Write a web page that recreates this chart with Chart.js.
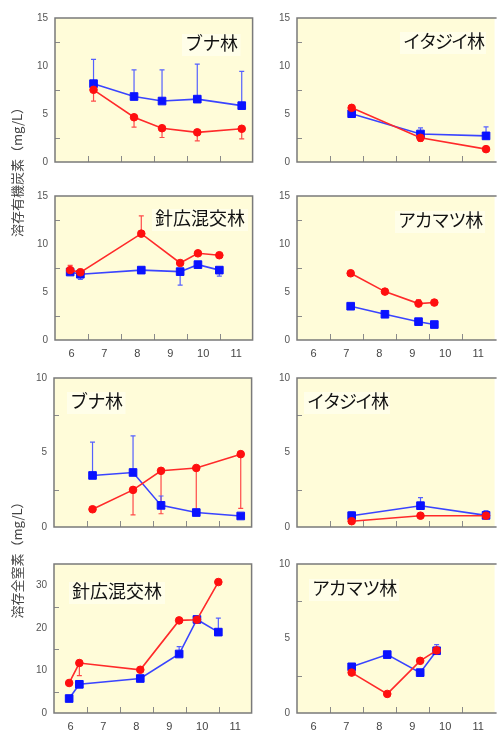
<!DOCTYPE html>
<html lang="ja">
<head>
<meta charset="utf-8">
<title>溶存有機炭素・溶存全窒素</title>
<script src="https://cdn.jsdelivr.net/npm/chart.js@4.4.1/dist/chart.umd.min.js"></script>
<style>
  html, body { margin: 0; padding: 0; background: #fff; }
  body { width: 497px; height: 733px; overflow: hidden; position: relative; }
  canvas { position: absolute; }
</style>
</head>
<body>
<canvas id="titles" width="40" height="733" style="left:0;top:0;width:40px;height:733px;"></canvas>
<script>
// ---- 横軸（月） ----
const xTickLabels = [6, 7, 8, 9, 10, 11];
const xMinorTicks = [6.5, 7.5, 8.5, 9.5, 10.5];

// ---- 縦軸タイトル ----
const docTitle = '溶存有機炭素（mg/L）';
const tnTitle = '溶存全窒素（mg/L）';

// ---- ブナ林 ----
const bunaMonths = [6.67, 7.90, 8.75, 9.82, 11.17];
const bunaDocBlue = [8.16, 6.82, 6.35, 6.55, 5.87];
const bunaDocBlueUpper = [10.7, 9.6, 9.6, 10.2, 9.45];
const bunaDocRed = [7.52, 4.66, 3.52, 3.09, 3.46];
const bunaDocRedLower = [6.35, 3.63, 2.55, 2.2, 2.4];
const bunaTnBlue = [3.46, 3.66, 1.45, 0.97, 0.74];
const bunaTnBlueUpper = [5.69, 6.12, 2.08, null, null];
const bunaTnRed = [1.19, 2.49, 3.77, 3.96, 4.89];
const bunaTnRedLower = [null, 0.82, 0.89, 1.19, 1.25];

// ---- イタジイ林 ----
const itajiiMonths = [7.16, 9.25, 11.24];
const itajiiDocBlue = [5.03, 2.92, 2.72];
const itajiiDocBlueUpper = [null, 3.56, 3.66];
const itajiiDocRed = [5.64, 2.52, 1.34];
const itajiiDocRedLower = [null, 2.15, null];
const itajiiTnBlue = [0.76, 1.43, 0.78];
const itajiiTnBlueUpper = [1.0, 1.97, 1.1];
const itajiiTnRed = [0.39, 0.76, 0.76];
const itajiiTnRedLower = [null, null, null];

// ---- 針広混交林 ----
const shinkoMonths = [5.96, 6.27, 8.12, 9.30, 9.84, 10.49];
const shinkoDocBlue = [7.08, 6.85, 7.28, 7.12, 7.85, 7.28];
const shinkoDocBlueLower = [null, 6.31, null, 5.71, null, 6.65];
const shinkoDocRed = [7.28, 7.05, 11.08, 8.02, 9.03, 8.83];
const shinkoDocRedUpper = [7.78, 7.38, 12.92, null, null, null];
const shinkoTnBlue = [3.4, 6.74, 8.1, 13.86, 21.97, 19.0];
const shinkoTnBlueUpper = [null, null, null, 15.6, null, 22.3];
const shinkoTnRed = [7.05, 11.74, 10.15, 21.75, 21.9, 30.76];
const shinkoTnRedLower = [null, 8.8, null, null, null, null];

// ---- アカマツ林 ----
const akamatsuDocMonths = [7.13, 8.17, 9.19, 9.67];
const akamatsuTnMonths = [7.16, 8.24, 9.24, 9.74];
const akamatsuDocBlue = [3.52, 2.68, 1.91, 1.61];
const akamatsuDocBlueLower = [null, null, null, 1.42];
const akamatsuDocRed = [6.95, 5.04, 3.79, 3.9];
const akamatsuDocRedUpper = [null, null, 4.2, null];
const akamatsuTnBlue = [3.1, 3.92, 2.71, 4.18];
const akamatsuTnBlueUpper = [null, null, null, 4.59];
const akamatsuTnRed = [2.71, 1.28, 3.5, 4.2];
const akamatsuTnRedLower = [null, null, null, null];

// ---- 縦軸（目盛ラベル・内向き補助目盛） ----
const docAxis = { max: 15, labels: [0, 5, 10, 15], minor: [2.5, 7.5, 12.5] };
const tn10Axis = { max: 10, labels: [0, 5, 10], minor: [2.5, 7.5] };
const tn35Axis = { max: 35, labels: [0, 10, 20, 30], minor: [5, 15, 25] };

const BLUE = '#0a12ff', BLUE_LINE = '#3a44ff', BLUE_ERR = '#5560ff';
const RED = '#ff0f0f', RED_LINE = '#ff2a2a', RED_ERR = '#ff4a4a';

Chart.defaults.font.family = '"Liberation Sans", Arial, sans-serif';

// 縦書きの軸タイトル
(function drawAxisTitles() {
  const ctx = document.getElementById('titles').getContext('2d');
  ctx.fillStyle = '#444';
  ctx.font = '13px "Noto Sans CJK JP", sans-serif';
  ctx.textAlign = 'center';
  ctx.textBaseline = 'middle';
  [[docTitle, 169], [tnTitle, 557]].forEach(([t, cy]) => {
    ctx.save();
    ctx.translate(17, cy);
    ctx.rotate(-Math.PI / 2);
    ctx.fillText(t, 0, 0);
    ctx.restore();
  });
})();

// パネル背景・枠・内向き目盛・林分名・誤差棒
const panelDecor = {
  id: 'panelDecor',
  beforeDraw(chart, args, o) {
    const { ctx, chartArea: a } = chart;
    ctx.save();
    ctx.fillStyle = '#fffcd9';
    ctx.fillRect(a.left, a.top, a.right - a.left, a.bottom - a.top);
    ctx.restore();
  },
  beforeDatasetsDraw(chart, args, o) {
    const { ctx, chartArea: a, scales } = chart;
    const xs = scales.x, ys = scales.y;
    ctx.save();
    // 林分名
    ctx.font = '18px "Noto Sans CJK JP", sans-serif';
    ctx.letterSpacing = o.spacing + 'px';
    const tw = ctx.measureText(o.title).width;
    const tx = a.left + o.tx, ty = a.top + o.ty;
    ctx.fillStyle = '#fffee9';
    ctx.fillRect(tx - 3, ty - 9, tw + 6, 22);
    ctx.fillStyle = '#111';
    ctx.textBaseline = 'middle';
    ctx.fillText(o.title, tx, ty);
    ctx.letterSpacing = '0px';

    // 内向き目盛
    ctx.strokeStyle = '#8a8a8a';
    ctx.lineWidth = 1;
    ctx.beginPath();
    xMinorTicks.forEach(v => {
      const px = Math.round(xs.getPixelForValue(v)) + 0.5;
      ctx.moveTo(px, a.bottom);
      ctx.lineTo(px, a.bottom - 6);
    });
    o.yMinor.forEach(v => {
      const py = Math.round(ys.getPixelForValue(v)) + 0.5;
      ctx.moveTo(a.left, py);
      ctx.lineTo(a.left + 5, py);
    });
    ctx.stroke();

    // 枠（右列は右辺が画面外）
    ctx.strokeStyle = '#7a7a7a';
    ctx.lineWidth = 1.5;
    ctx.beginPath();
    if (o.openRight) {
      ctx.moveTo(a.right + 2, a.top);
      ctx.lineTo(a.left, a.top);
      ctx.lineTo(a.left, a.bottom);
      ctx.lineTo(a.right + 2, a.bottom);
    } else {
      ctx.rect(a.left, a.top, a.right - a.left, a.bottom - a.top);
    }
    ctx.stroke();

    // 誤差棒
    chart.data.datasets.forEach(ds => {
      if (!ds.errEnd) return;
      ctx.strokeStyle = ds.errColor;
      ctx.lineWidth = 1.2;
      ctx.beginPath();
      ds.data.forEach((p, i) => {
        const e = ds.errEnd[i];
        if (e === null || e === undefined) return;
        const px = xs.getPixelForValue(p.x);
        const py0 = ys.getPixelForValue(p.y);
        const py1 = ys.getPixelForValue(e);
        ctx.moveTo(px, py0);
        ctx.lineTo(px, py1);
        ctx.moveTo(px - 2.5, py1);
        ctx.lineTo(px + 2.5, py1);
      });
      ctx.stroke();
    });
    ctx.restore();
  }
};

const panels = [
  { left: 55, top: 13, h: 149, axis: docAxis, showX: false, title: 'ブナ林', tx: 130, ty: 25, spacing: -0.5,
    months: bunaMonths, blue: bunaDocBlue, blueErr: bunaDocBlueUpper, red: bunaDocRed, redErr: bunaDocRedLower },
  { left: 297, top: 13, h: 149, axis: docAxis, showX: false, title: 'イタジイ林', tx: 106, ty: 23, spacing: -2,
    months: itajiiMonths, blue: itajiiDocBlue, blueErr: itajiiDocBlueUpper, red: itajiiDocRed, redErr: itajiiDocRedLower },
  { left: 55, top: 191, h: 149, axis: docAxis, showX: true, title: '針広混交林', tx: 100, ty: 22, spacing: 0,
    months: shinkoMonths, blue: shinkoDocBlue, blueErr: shinkoDocBlueLower, red: shinkoDocRed, redErr: shinkoDocRedUpper },
  { left: 297, top: 191, h: 149, axis: docAxis, showX: true, title: 'アカマツ林', tx: 101, ty: 24, spacing: -1.2,
    months: akamatsuDocMonths, blue: akamatsuDocBlue, blueErr: akamatsuDocBlueLower, red: akamatsuDocRed, redErr: akamatsuDocRedUpper },
  { left: 54, top: 373, h: 154, axis: tn10Axis, showX: false, title: 'ブナ林', tx: 16, ty: 23, spacing: -0.5,
    months: bunaMonths, blue: bunaTnBlue, blueErr: bunaTnBlueUpper, red: bunaTnRed, redErr: bunaTnRedLower },
  { left: 297, top: 373, h: 154, axis: tn10Axis, showX: false, title: 'イタジイ林', tx: 10, ty: 23, spacing: -2,
    months: itajiiMonths, blue: itajiiTnBlue, blueErr: itajiiTnBlueUpper, red: itajiiTnRed, redErr: itajiiTnRedLower },
  { left: 54, top: 559, h: 154, axis: tn35Axis, showX: true, title: '針広混交林', tx: 18, ty: 27, spacing: 0,
    months: shinkoMonths, blue: shinkoTnBlue, blueErr: shinkoTnBlueUpper, red: shinkoTnRed, redErr: shinkoTnRedLower },
  { left: 297, top: 559, h: 154, axis: tn10Axis, showX: true, title: 'アカマツ林', tx: 15, ty: 24, spacing: -1.2,
    months: akamatsuTnMonths, blue: akamatsuTnBlue, blueErr: akamatsuTnBlueUpper, red: akamatsuTnRed, redErr: akamatsuTnRedLower }
];

const PLOT_W = 200, PAD_L = 45, PAD_T = 8, PAD_R = 4, PAD_B = 24;

panels.forEach(p => {
  const cv = document.createElement('canvas');
  const w = PLOT_W + PAD_L + PAD_R, h = p.h + PAD_T + PAD_B;
  cv.width = w; cv.height = h;
  cv.style.width = w + 'px'; cv.style.height = h + 'px';
  cv.style.left = (p.left - PAD_L) + 'px';
  cv.style.top = (p.top - PAD_T) + 'px';
  document.body.appendChild(cv);

  const pts = vals => p.months.map((m, i) => ({ x: m, y: vals[i] }));

  new Chart(cv, {
    type: 'line',
    data: {
      datasets: [
        { data: pts(p.red), errEnd: p.redErr, errColor: RED_ERR, order: 0,
          borderColor: RED_LINE, backgroundColor: RED, pointBackgroundColor: RED, pointBorderColor: RED,
          pointStyle: 'circle', pointRadius: 3.8, pointBorderWidth: 1, borderWidth: 1.6, tension: 0 },
        { data: pts(p.blue), errEnd: p.blueErr, errColor: BLUE_ERR, order: 1,
          borderColor: BLUE_LINE, backgroundColor: BLUE, pointBackgroundColor: BLUE, pointBorderColor: BLUE,
          pointStyle: 'rect', pointRadius: 5.4, pointBorderWidth: 1, borderWidth: 1.6, tension: 0 }
      ]
    },
    options: {
      responsive: false,
      animation: false,
      devicePixelRatio: 1,
      layout: { padding: { top: PAD_T, right: PAD_R, left: 0, bottom: 0 } },
      plugins: {
        legend: { display: false },
        tooltip: { enabled: false },
        panelDecor: { title: p.title, tx: p.tx, ty: p.ty, spacing: p.spacing,
                      yMinor: p.axis.minor, openRight: p.left > 200 }
      },
      scales: {
        x: {
          type: 'linear', min: 5.5, max: 11.5,
          afterBuildTicks: s => { s.ticks = xTickLabels.map(v => ({ value: v })); },
          afterFit: s => { s.height = PAD_B; },
          grid: { display: false, drawTicks: false },
          border: { display: false },
          ticks: { display: p.showX, padding: 7, color: '#444', font: { size: 11 }, maxRotation: 0, autoSkip: false }
        },
        y: {
          min: 0, max: p.axis.max,
          afterBuildTicks: s => { s.ticks = p.axis.labels.map(v => ({ value: v })); },
          afterFit: s => { s.width = PAD_L; },
          grid: { display: false, drawTicks: false },
          border: { display: false },
          ticks: { padding: 7, color: '#555', font: { size: 10 } }
        }
      }
    },
    plugins: [panelDecor]
  });
});
</script>
</body>
</html>
